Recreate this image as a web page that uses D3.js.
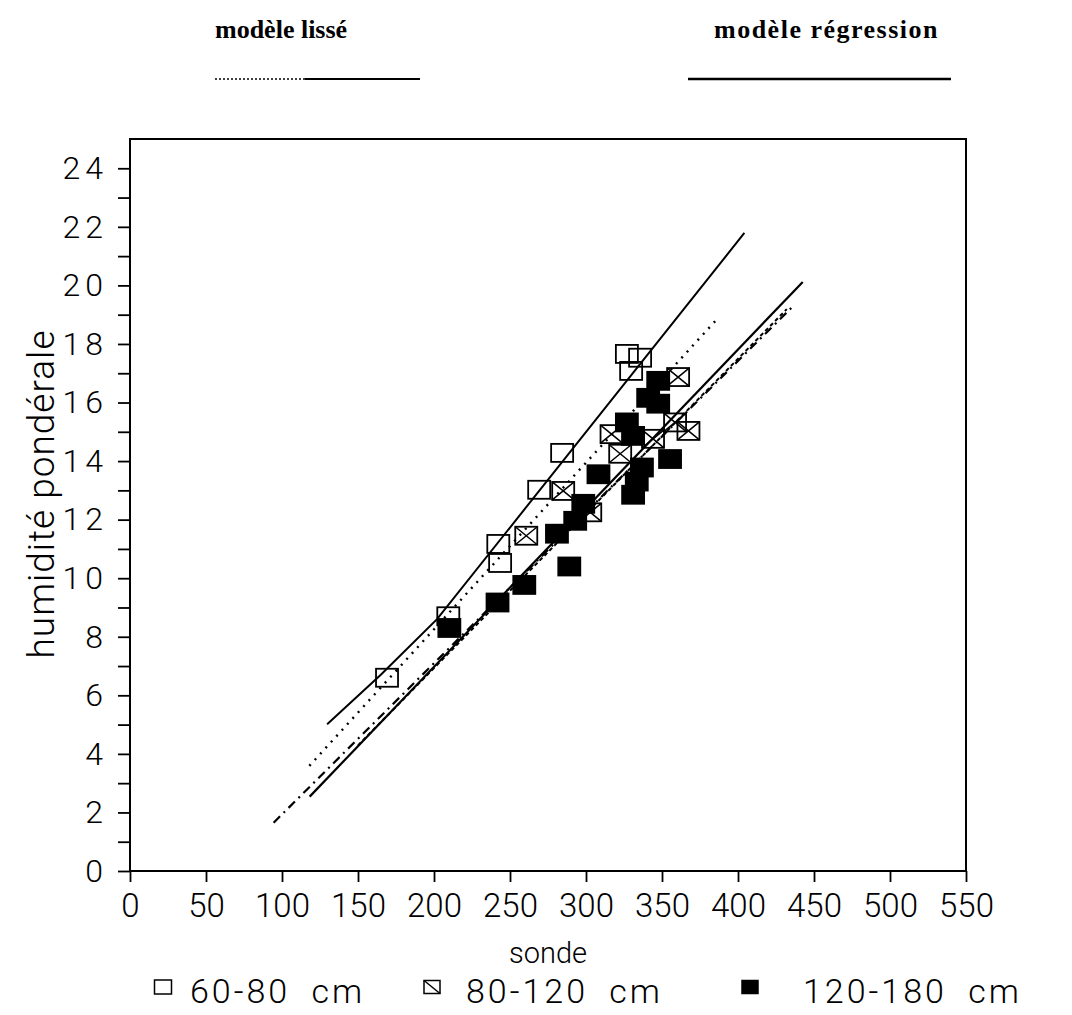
<!DOCTYPE html>
<html>
<head>
<meta charset="utf-8">
<script src="https://cdn.jsdelivr.net/npm/d3@7"></script>
<style>
  body { margin: 0; background: #fff; }
  .axis text { font-family: Roboto, "Liberation Sans", sans-serif; font-weight: 300; fill: #000; }
  .axis line { stroke: #000; stroke-width: 1.8; }
  .title { font-family: Roboto, "Liberation Sans", sans-serif; font-weight: 300; fill: #000; }
  .head { font-family: "Liberation Serif", "DejaVu Serif", serif; font-weight: bold; fill: #000; }
</style>
</head>
<body>
<div id="chart-area"></div>
<script>

// Data

// tick labels
var xTickValues = [0, 50, 100, 150, 200, 250, 300, 350, 400, 450, 500, 550];
var yTickValues = [0, 2, 4, 6, 8, 10, 12, 14, 16, 18, 20, 22, 24];

// series (sonde, humidité pondérale)
var seriesNames = ["60-80 cm", "80-120 cm", "120-180 cm"];

var sonde6080 = [169.1, 209.4, 242.3, 243.5, 269.2, 284.3, 326.9, 335.6, 329.7];
var hum6080   = [6.6, 8.7, 11.17, 10.52, 13.02, 14.28, 17.66, 17.53, 17.08];

var sonde80120 = [260.7, 285.0, 302.8, 316.8, 322.5, 344.1, 358.6, 367.4, 360.6];
var hum80120   = [11.45, 12.98, 12.25, 14.92, 14.25, 14.76, 15.32, 15.03, 16.87];

var sonde120180 = [210.1, 241.8, 259.4, 289.0, 280.9, 292.9, 298.2, 308.2, 326.9, 331.0, 336.8, 333.4, 331.0, 355.3, 347.5, 340.9, 347.5];
var hum120180   = [8.30, 9.17, 9.77, 10.4, 11.52, 11.96, 12.54, 13.55, 15.32, 14.86, 13.78, 13.3, 12.85, 14.07, 16.74, 16.16, 15.96];

// model lines
var regA_sonde = [129.7, 165, 202, 404.2];
var regA_hum   = [5.01, 6.7, 8.6, 21.79];
var regB_sonde = [118.2, 442.6];
var regB_hum   = [2.54, 20.12];
var lisA_sonde = [118.0, 387.1];
var lisA_hum   = [3.59, 18.9];
var lisB_sonde = [94.5, 436.4];
var lisB_hum   = [1.65, 19.3];
var lisC_sonde = [150, 432.1];
var lisC_hum   = [4.29, 19.19];


// SVG drawing area

var margin = {top: 139, right: 106, bottom: 144, left: 130};

var width = 1072 - margin.left - margin.right,
    height = 1015 - margin.top - margin.bottom;

var root = d3.select("#chart-area").append("svg")
    .attr("width", 1072)
    .attr("height", 1015);

var svg = root.append("g")
    .attr("transform", "translate(" + margin.left + "," + margin.top + ")");


// Scales
var x = d3.scaleLinear()
    .domain([0, 550])
    .range([0, width]);

var y = d3.scaleLinear()
    .domain([0, 25])
    .range([height, 0]);


// Axis
var xAxis = d3.axisBottom(x)
    .tickValues(xTickValues)
    .tickSize(11)
    .tickSizeOuter(0)
    .tickPadding(12);

var yAxis = d3.axisLeft(y)
    .tickValues(d3.range(0, 25, 1))
    .tickSize(12)
    .tickSizeOuter(0)
    .tickPadding(10)
    .tickFormat(function(d) { return yTickValues.indexOf(d) >= 0 ? d : ""; });

var xAxisGroup = svg.append("g")
    .attr("class", "x-axis axis")
    .attr("transform", "translate(0," + height + ")")
    .call(xAxis);

xAxisGroup.select(".domain").remove();
xAxisGroup.selectAll("text")
    .style("font-size", "33px");

var yAxisGroup = svg.append("g")
    .attr("class", "y-axis axis")
    .call(yAxis);

yAxisGroup.select(".domain").remove();
yAxisGroup.selectAll("text")
    .style("font-size", "32px")
    .style("letter-spacing", "5px");

// frame
svg.append("rect")
    .attr("x", 0)
    .attr("y", 0)
    .attr("width", width)
    .attr("height", height)
    .attr("fill", "none")
    .attr("stroke", "#000")
    .attr("stroke-width", 2);

// axis titles
root.append("text")
    .attr("class", "title")
    .attr("text-anchor", "middle")
    .attr("x", 548)
    .attr("y", 963)
    .style("font-size", "29px")
    .text("sonde");

root.append("text")
    .attr("class", "title")
    .attr("text-anchor", "middle")
    .attr("transform", "translate(54,494) rotate(-90)")
    .style("font-size", "37px")
    .style("letter-spacing", "1px")
    .text("humidité pondérale");


// Model lines
var line = d3.line()
    .x(function(d) { return x(d[0]); })
    .y(function(d) { return y(d[1]); });

function pairs(xs, ys) {
    return xs.map(function(v, i) { return [v, ys[i]]; });
}

var models = [
    {pts: pairs(regA_sonde, regA_hum), dash: null, w: 2},
    {pts: pairs(regB_sonde, regB_hum), dash: null, w: 2.2},
    {pts: pairs(lisA_sonde, lisA_hum), dash: "2,6", w: 2.4},
    {pts: pairs(lisB_sonde, lisB_hum), dash: "9,5,2,5", w: 2.2},
    {pts: pairs(lisC_sonde, lisC_hum), dash: "4,3", w: 2}
];

svg.selectAll(".model")
    .data(models)
    .enter().append("path")
    .attr("class", "model")
    .attr("d", function(d) { return line(d.pts); })
    .attr("fill", "none")
    .attr("stroke", "#000")
    .attr("stroke-width", function(d) { return d.w; })
    .attr("stroke-dasharray", function(d) { return d.dash; });


// Markers
var mw = 22, mh = 18;

function drawMarker(g, type) {
    g.append("rect")
        .attr("x", -mw / 2)
        .attr("y", -mh / 2)
        .attr("width", mw)
        .attr("height", mh)
        .attr("fill", type === 2 ? "#000" : "none")
        .attr("stroke", "#000")
        .attr("stroke-width", 1.8);
    if (type === 1) {
        g.append("path")
            .attr("d", "M" + (-mw / 2) + "," + (-mh / 2) + "L" + (mw / 2) + "," + (mh / 2) +
                       "M" + (mw / 2) + "," + (-mh / 2) + "L" + (-mw / 2) + "," + (mh / 2))
            .attr("stroke", "#000")
            .attr("stroke-width", 1.5);
    }
}

var points = [
    {type: 0, pts: pairs(sonde6080, hum6080)},
    {type: 1, pts: pairs(sonde80120, hum80120)},
    {type: 2, pts: pairs(sonde120180, hum120180)}
];

points.forEach(function(s) {
    svg.selectAll(".pt" + s.type)
        .data(s.pts)
        .enter().append("g")
        .attr("class", "pt" + s.type)
        .attr("transform", function(d) { return "translate(" + x(d[0]) + "," + y(d[1]) + ")"; })
        .each(function() { drawMarker(d3.select(this), s.type); });
});


// Bottom legend
var legendX = [163, 432, 750];
var legendTextX = [190, 466, 803];

seriesNames.forEach(function(name, i) {
    var g = root.append("g")
        .attr("transform", "translate(" + legendX[i] + ",987)");
    var sw = i === 0 ? 17 : 16, sh = i === 0 ? 14 : 13;
    g.append("rect")
        .attr("x", -sw / 2).attr("y", -sh / 2)
        .attr("width", sw).attr("height", sh)
        .attr("fill", i === 2 ? "#000" : "none")
        .attr("stroke", "#000")
        .attr("stroke-width", 1.5);
    if (i === 1) {
        g.append("path")
            .attr("d", "M" + (-sw / 2) + "," + (-sh / 2) + "L" + (sw / 2) + "," + (sh / 2))
            .attr("stroke", "#000")
            .attr("stroke-width", 1.5);
    }
    root.append("text")
        .attr("class", "title")
        .attr("x", legendTextX[i])
        .attr("y", 1003)
        .style("font-size", "34px")
        .style("letter-spacing", "3px")
        .style("word-spacing", "10px")
        .text(name);
});


// Top legend (model types)
root.append("text")
    .attr("class", "head")
    .attr("x", 215)
    .attr("y", 38)
    .style("font-size", "26px")
    .text("modèle lissé");

root.append("text")
    .attr("class", "head")
    .attr("x", 714)
    .attr("y", 38)
    .style("font-size", "26px")
    .style("letter-spacing", "1.5px")
    .text("modèle régression");

root.append("line")
    .attr("x1", 215).attr("x2", 305)
    .attr("y1", 79).attr("y2", 79)
    .attr("stroke", "#000")
    .attr("stroke-width", 1.5)
    .attr("stroke-dasharray", "2,2");

root.append("line")
    .attr("x1", 305).attr("x2", 420)
    .attr("y1", 79).attr("y2", 79)
    .attr("stroke", "#000")
    .attr("stroke-width", 1.8);

root.append("line")
    .attr("x1", 688).attr("x2", 951)
    .attr("y1", 79).attr("y2", 79)
    .attr("stroke", "#000")
    .attr("stroke-width", 2.5);

</script>
</body>
</html>
